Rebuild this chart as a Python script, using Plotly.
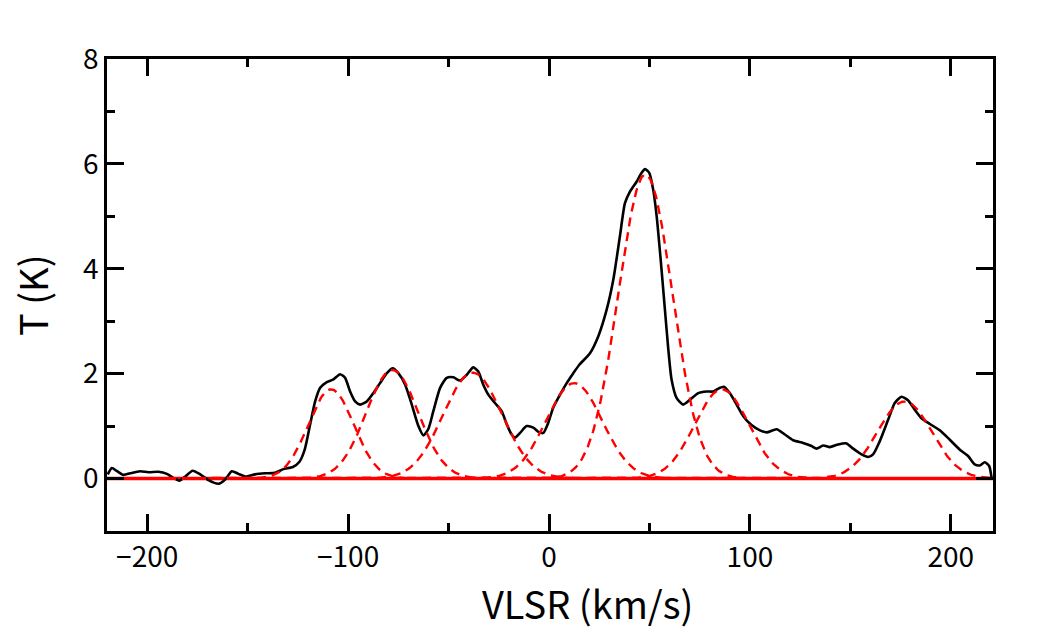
import numpy as np
import plotly.graph_objects as go

vlsr = [-219.6, -217.6, -215.0, -211.8, -208.5, -203.5, -199.4, -194.4, -190.2, -186.9,
        -184.0, -181.0, -177.4, -173.6, -169.5, -164.5, -161.2, -157.9, -154.6, -151.2,
        -146.3, -141.3, -136.3, -132.2, -127.5, -124.2, -121.6, -118.9, -116.4, -113.9,
        -110.6, -107.3, -104.0, -101.5, -99.0, -96.5, -94.0, -90.7, -87.4, -84.1,
        -80.7, -77.8, -75.0, -71.6, -68.3, -65.0, -62.5, -60.0, -57.6, -54.2,
        -50.9, -47.6, -44.3, -40.9, -37.7, -35.2, -32.7, -30.2, -26.9, -23.5,
        -21.0, -18.6, -16.9, -14.4, -11.1, -7.8, -5.3, -2.8, -0.5, 2.1,
        5.5, 8.8, 12.1, 15.1, 20.4, 24.5, 28.7, 32.0, 35.3, 37.8,
        40.3, 43.6, 46.1, 47.8, 49.9, 51.9, 53.6, 55.6, 57.7, 59.4,
        61.0, 63.5, 66.8, 70.1, 74.3, 78.5, 81.7, 84.5, 87.0, 90.0,
        93.4, 96.7, 100.8, 105.0, 108.3, 113.3, 117.4, 121.5, 126.5, 130.7,
        133.2, 136.5, 139.8, 143.9, 148.1, 151.4, 155.6, 158.9, 161.3, 164.5,
        168.8, 172.1, 175.5, 178.8, 182.1, 185.4, 189.6, 194.5, 199.5, 204.5,
        208.6, 211.9, 214.4, 216.9, 219.1, 220.3]
temp = [0.08, 0.20, 0.14, 0.07, 0.10, 0.14, 0.12, 0.13, 0.09, 0.01,
        -0.04, 0.04, 0.15, 0.08, -0.03, -0.10, -0.02, 0.14, 0.09, 0.04,
        0.08, 0.10, 0.11, 0.18, 0.22, 0.32, 0.55, 1.03, 1.47, 1.73,
        1.84, 1.89, 1.99, 1.92, 1.66, 1.47, 1.41, 1.47, 1.63, 1.82,
        2.01, 2.10, 2.01, 1.79, 1.41, 1.00, 0.82, 0.95, 1.28, 1.73,
        1.92, 1.93, 1.87, 1.98, 2.12, 2.04, 1.79, 1.60, 1.44, 1.28,
        1.03, 0.84, 0.78, 0.87, 1.00, 0.97, 0.89, 0.87, 1.05, 1.35,
        1.60, 1.82, 2.01, 2.17, 2.39, 2.71, 3.22, 3.79, 4.62, 5.25,
        5.47, 5.66, 5.83, 5.90, 5.83, 5.50, 5.00, 4.17, 3.22, 2.46,
        1.89, 1.54, 1.41, 1.50, 1.63, 1.66, 1.66, 1.72, 1.75, 1.63,
        1.41, 1.19, 1.02, 0.92, 0.88, 0.94, 0.84, 0.73, 0.68, 0.62,
        0.57, 0.63, 0.60, 0.65, 0.67, 0.57, 0.46, 0.41, 0.46, 0.70,
        1.12, 1.44, 1.56, 1.49, 1.31, 1.15, 1.04, 0.92, 0.74, 0.55,
        0.43, 0.27, 0.25, 0.31, 0.24, 0.01]

# Gaussian fit components (amplitude K, centre km/s, sigma km/s)
g_amp = [1.70, 2.07, 2.02, 1.82, 5.80, 1.70, 1.47]
g_cen = [-108.5, -78.0, -38.0, 12.5, 48.0, 86.0, 177.0]
g_sig = [11.3, 13.0, 14.6, 14.0, 13.5, 13.5, 13.5]

x_range = [-220, 221]
y_range = [-1, 8]
x_ticks = [-200, -100, 0, 100, 200]
y_ticks = [0, 2, 4, 6, 8]

FONT = "Noto Sans CJK JP"

fig = go.Figure()

# zero baseline
fig.add_trace(go.Scatter(x=x_range, y=[0, 0], mode="lines",
                         line=dict(color="#ff0000", width=3.5), showlegend=False,
                         hoverinfo="skip"))

# observed spectrum
fig.add_trace(go.Scatter(x=vlsr, y=temp, mode="lines",
                         line=dict(color="black", width=2.6, shape="spline", smoothing=0.6),
                         showlegend=False))

# gaussian components
vgrid = np.linspace(x_range[0], x_range[1], 900)
for a, c, s in zip(g_amp, g_cen, g_sig):
    fig.add_trace(go.Scatter(x=vgrid, y=a * np.exp(-0.5 * ((vgrid - c) / s) ** 2),
                             mode="lines",
                             line=dict(color="#ff0000", width=2.4, dash="9px,6px"),
                             showlegend=False))

axis_common = dict(showline=True, linecolor="black", linewidth=2.5, mirror="ticks",
                   ticks="inside", ticklen=17, tickwidth=2.5, tickcolor="black",
                   showgrid=False, zeroline=False,
                   tickfont=dict(family=FONT, size=28, color="black"))

fig.update_xaxes(range=x_range, tickvals=x_ticks,
                 ticktext=["\u2212200", "\u2212100", "0", "100", "200"],
                 minor=dict(dtick=50, tick0=0, ticks="inside", ticklen=8,
                            tickwidth=2.5, tickcolor="black", showgrid=False),
                 **axis_common)
fig.update_yaxes(range=y_range, tickvals=y_ticks,
                 minor=dict(dtick=1, tick0=0, ticks="inside", ticklen=8,
                            tickwidth=2.5, tickcolor="black", showgrid=False),
                 **axis_common)

fig.add_annotation(text="VLSR (km/s)", xref="paper", yref="paper",
                   x=0.542, y=-0.152, xanchor="center", yanchor="middle",
                   showarrow=False, font=dict(family=FONT, size=38, color="black"))
fig.add_annotation(text="T (K)", xref="paper", yref="paper",
                   x=(31 - 107) / 886, y=0.5, xanchor="center", yanchor="middle",
                   textangle=-90, showarrow=False,
                   font=dict(family=FONT, size=38, color="black"))

fig.update_layout(width=1052, height=633,
                  margin=dict(l=107, r=59, t=59, b=102),
                  paper_bgcolor="white", plot_bgcolor="white",
                  showlegend=False)

fig.write_html("out.html")
